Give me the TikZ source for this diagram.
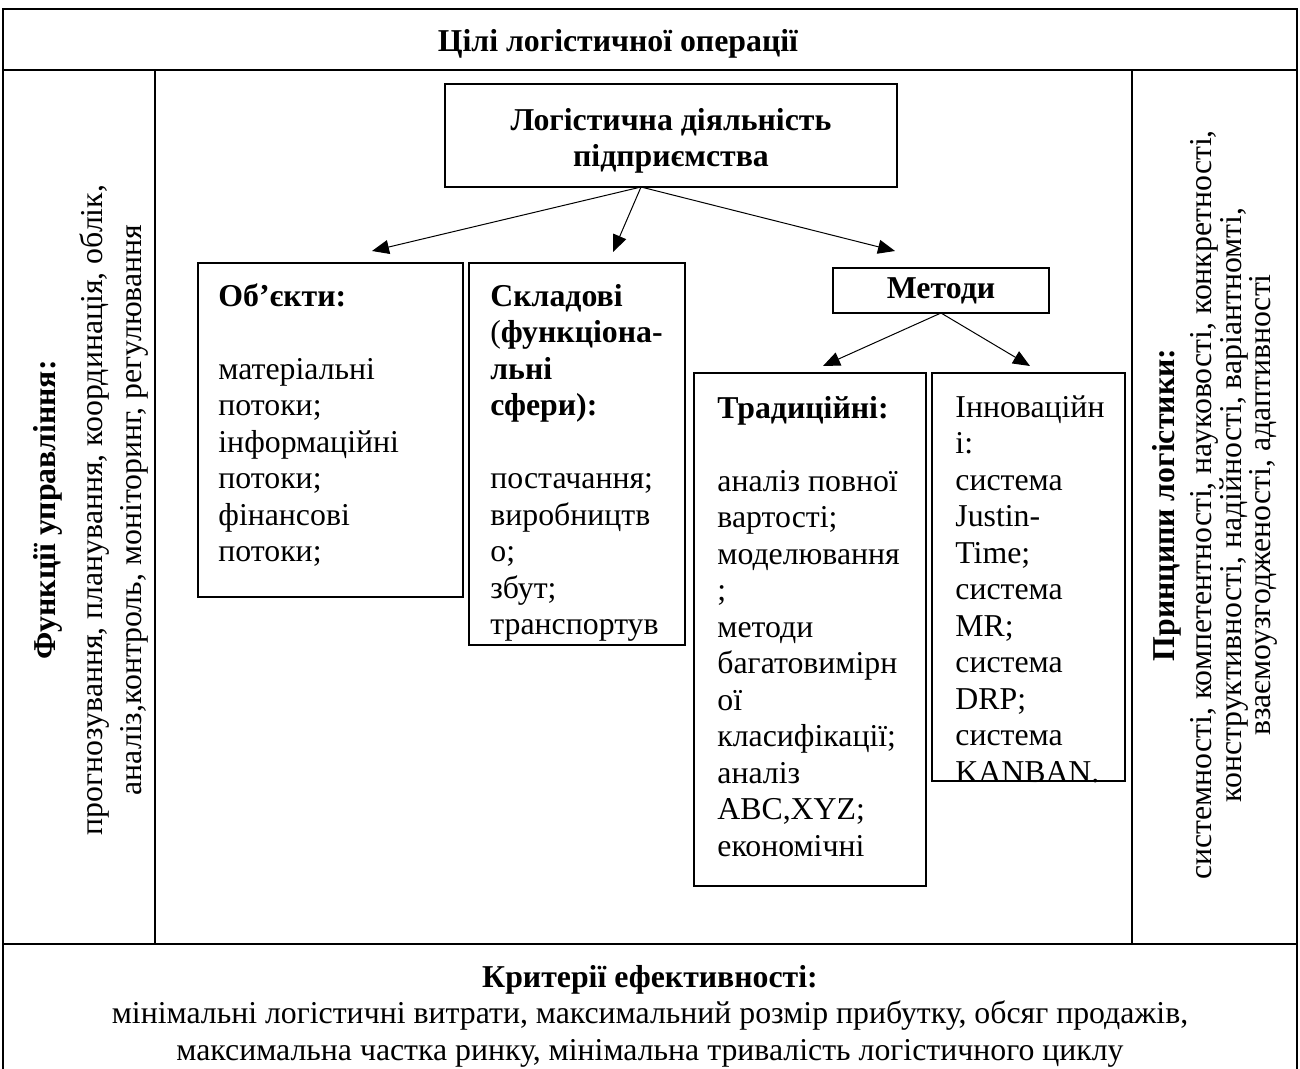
\documentclass[tikz,border=0pt]{standalone}
\usepackage{fontspec}
\setmainfont{Liberation Serif}
\usetikzlibrary{arrows.meta}
\newcommand{\fstrut}{\rule{0pt}{12pt}}

\begin{document}
\begin{tikzpicture}[x=0.5pt,y=-0.5pt,
  font=\fontsize{15.9}{18.25}\selectfont,
  tabline/.style={line width=0.9pt},
  blk/.style={draw,line width=0.6pt,inner sep=0pt,outer sep=0pt,anchor=north west},
  txt/.style={inner sep=0pt,anchor=north west,align=left},
  arr/.style={-{Triangle[length=8.5pt,width=7pt]},line width=0.5pt}]
\useasboundingbox (0,0) rectangle (1300,1069);

% table
\draw[tabline] (3,1069) -- (3,9) -- (1297,9) -- (1297,1069);
\draw[tabline] (3,70) -- (1297,70);
\draw[tabline] (3,944) -- (1297,944);
\draw[tabline] (155,70) -- (155,944);
\draw[tabline] (1132,70) -- (1132,944);

\node[anchor=base,inner sep=0pt] (goal) at (618,52) {\textbf{Цілі логістичної операції}};

\node[rotate=90,align=center,inner sep=0pt] (func) at (91,510)
  {\textbf{Функції управління:}\\[5pt]прогнозування, планування, координація, облік,\\[1.5pt]аналіз,контроль, моніторинг, регулювання};
\node[rotate=90,align=center,inner sep=0pt] (princ) at (1215,505)
  {\textbf{Принципи логістики:}\\[0.5pt]системності, компетентності, науковості, конкретності,\\[-3.5pt]конструктивності, надійності, варіантномті,\\[-3.5pt]взаємоузгодженості, адаптивності};

\node[anchor=north,align=center,inner sep=0pt] (crit) at (650,963)
  {\fstrut\textbf{Критерії ефективності:}\\мінімальні логістичні витрати, максимальний розмір прибутку, обсяг продажів,\\максимальна частка ринку, мінімальна тривалість логістичного циклу};

% boxes
\node[blk,minimum width=226pt,minimum height=51.5pt] (main) at (445,84) {};
\node[align=center,inner sep=0pt] (maintxt) at (671,141)
  {\textbf{Логістична діяльність}\\\textbf{підприємства}};
\node[blk,minimum width=132.5pt,minimum height=167pt] (obj) at (198,263) {};
\node[blk,minimum width=108pt,minimum height=191pt] (sklad) at (469,263) {};
\node[blk,minimum width=108pt,minimum height=22.5pt] (met) at (833,268) {\textbf{Методи}};
\node[blk,minimum width=116pt,minimum height=256.5pt] (trad) at (694,373) {};
\node[blk,minimum width=96.5pt,minimum height=204pt] (innov) at (932,373) {};

\node[txt] (objtxt) at (218,282)
  {\fstrut\textbf{Об’єкти:}\\[18.25pt]матеріальні\\потоки;\\інформаційні\\потоки;\\фінансові\\потоки;};
\node[txt] (skladtxt) at (490,282)
  {\fstrut\textbf{Складові}\\(\textbf{функціона-}\\\textbf{льні}\\\textbf{сфери):}\\[18.25pt]постачання;\\виробництв\\о;\\збут;\\транспортув};
\node[txt] (tradtxt) at (717,394)
  {\fstrut\textbf{Традиційні:}\\[18.25pt]аналіз повної\\вартості;\\моделювання\\;\\методи\\багатовимірн\\ої\\класифікації;\\аналіз\\ABC,XYZ;\\економічні};
\node[txt] (innovtxt) at (955,393)
  {\fstrut Інноваційн\\і:\\система\\Justin-\\Time;\\система\\MR;\\система\\DRP;\\система\\KANBAN.};

% arrows
\coordinate (fork) at ([xshift=-15pt]main.south);
\coordinate (objtip) at (372,251);
\coordinate (skladtip) at (613,252);
\coordinate (mettip) at (895,251);
\coordinate (tradtip) at (823,366);
\coordinate (innovtip) at (1030,366);
\draw[arr] (fork) -- (objtip);
\draw[arr] (fork) -- (skladtip);
\draw[arr] (fork) -- (mettip);
\draw[arr] (met.south) -- (tradtip);
\draw[arr] (met.south) -- (innovtip);
\end{tikzpicture}
\end{document}
